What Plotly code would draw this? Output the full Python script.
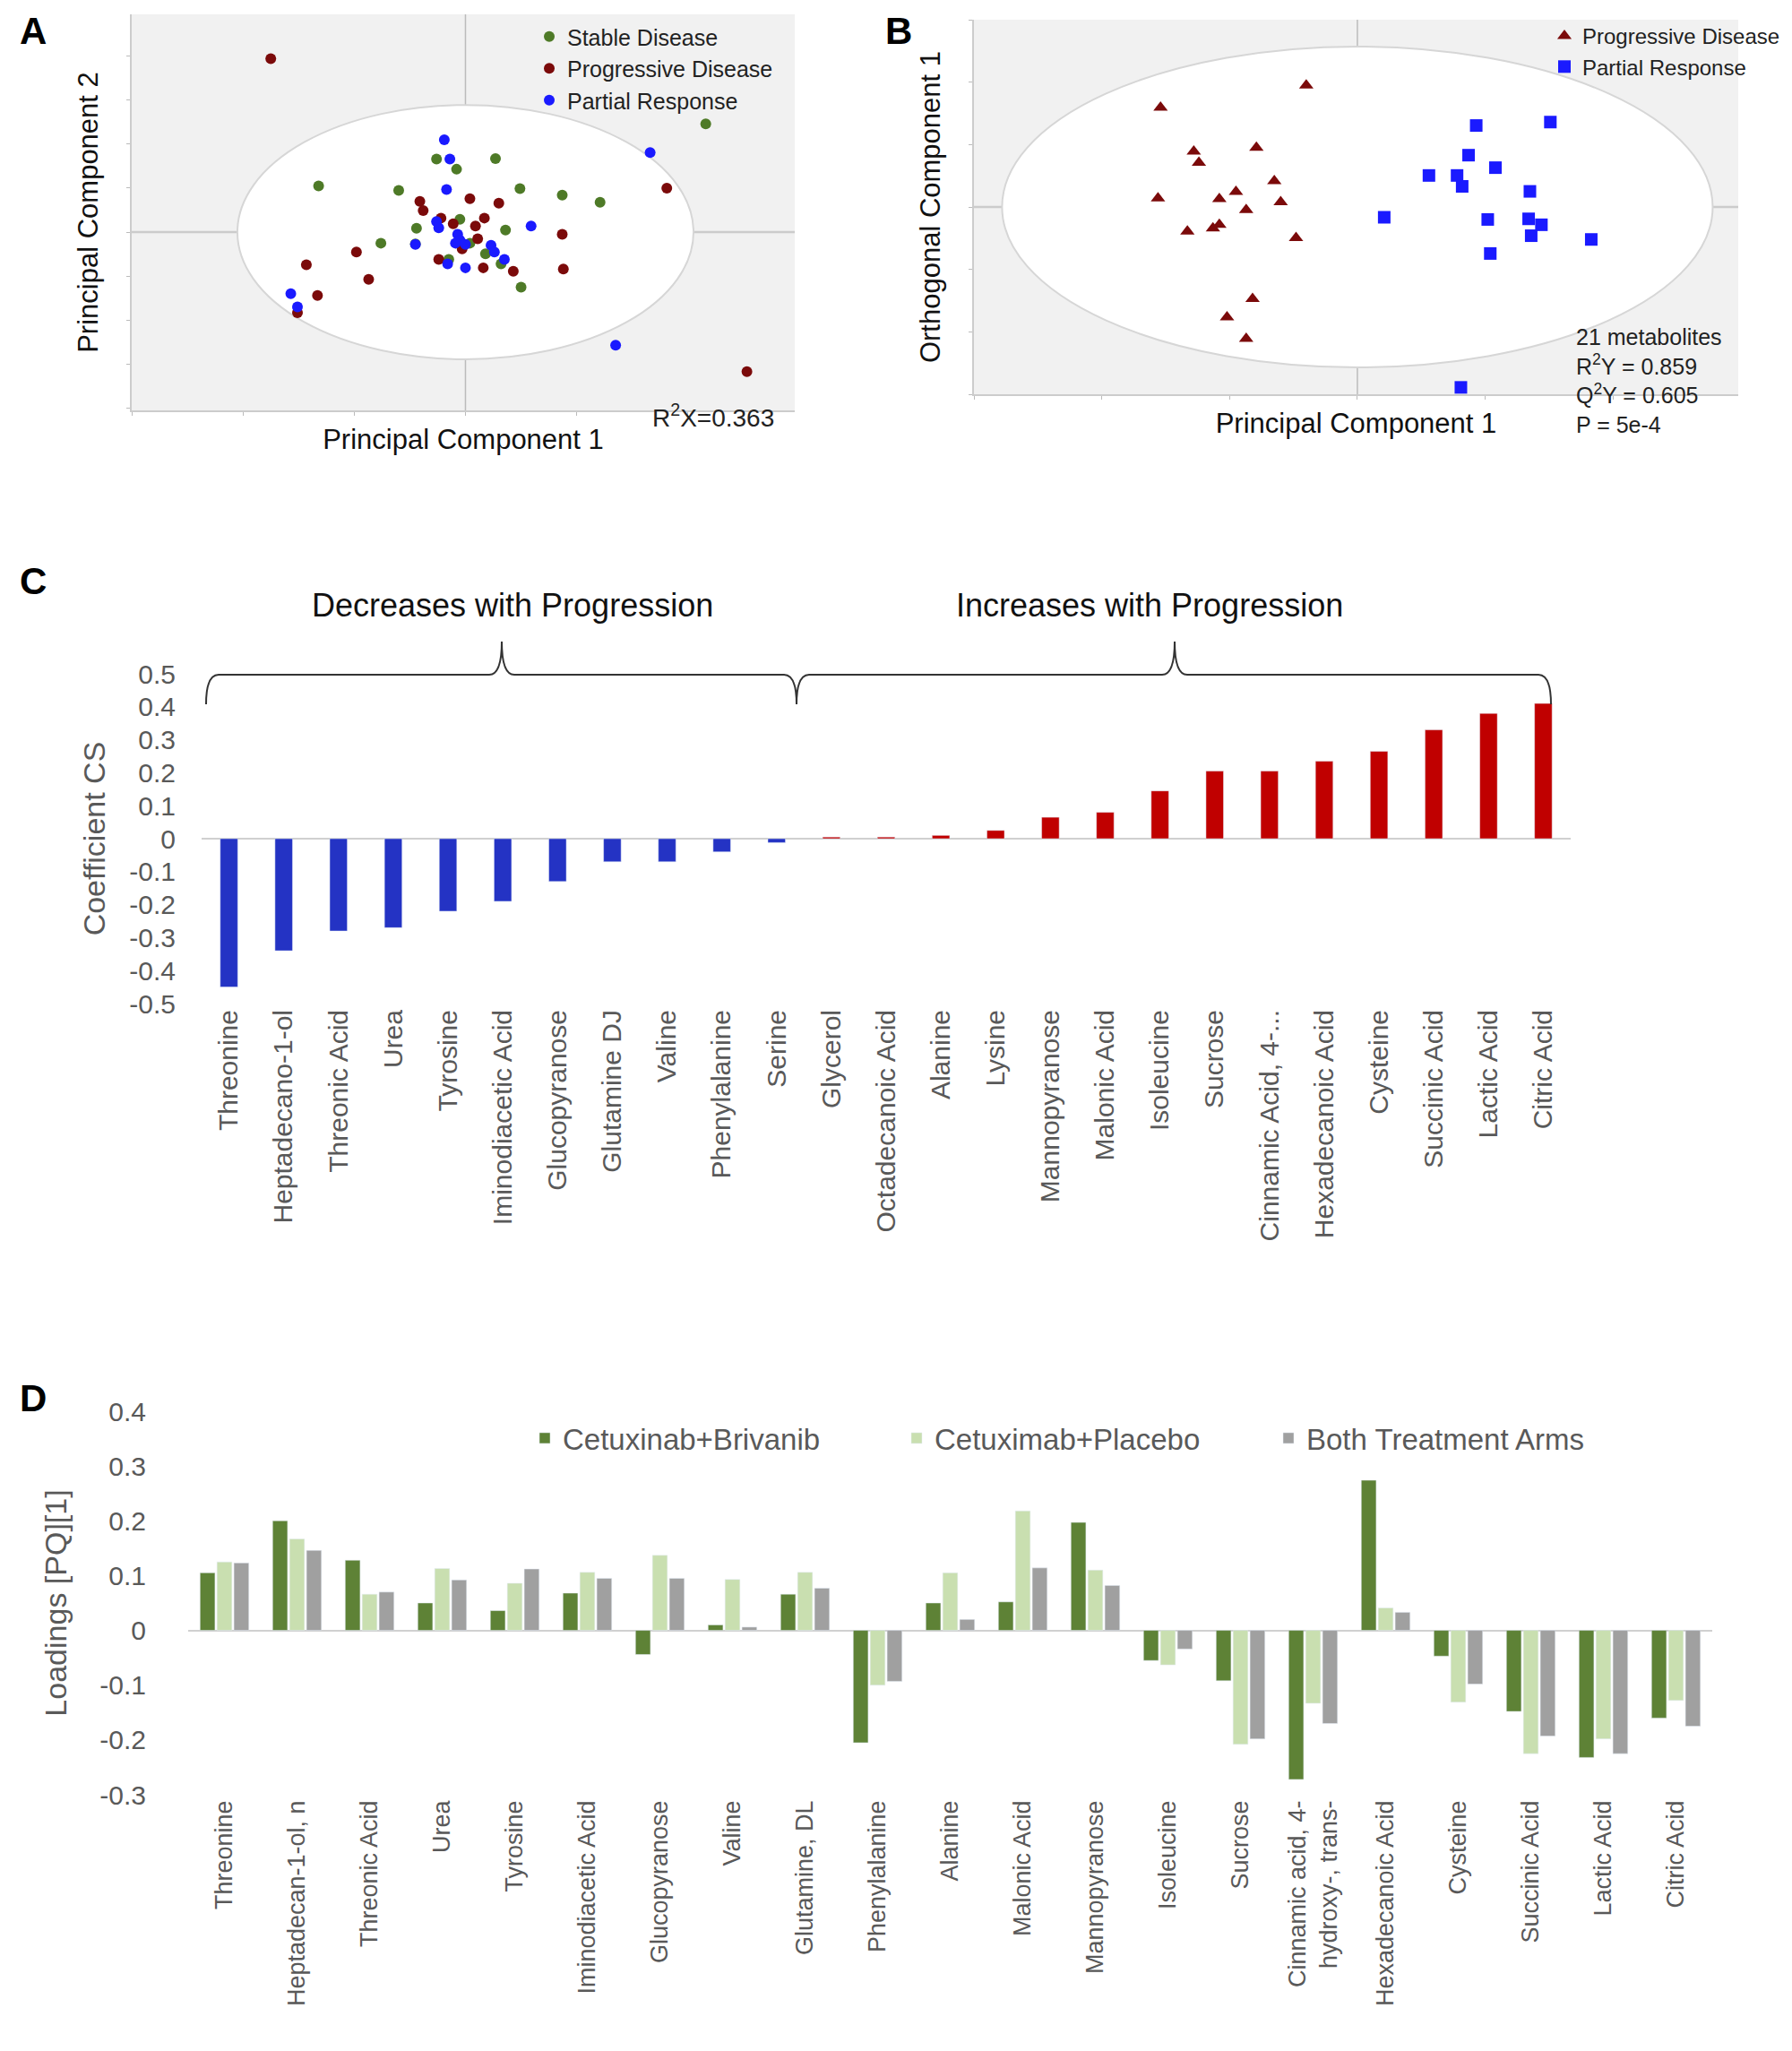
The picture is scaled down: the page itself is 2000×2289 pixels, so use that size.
import plotly.graph_objects as go

W, H = 2000, 2289

# ---- panel A: PCA scores (PC1, PC2)
a_pd_x = [-1.75, 1.81, 2.53, 0.04, 0.30, -0.41, -0.38, -0.22, -0.11, 0.17, 0.09, 0.11, -0.03, 0.87, 0.88, -0.98, -1.43, -0.87, -1.33, -1.51, -0.24, 0.16, 0.43]
a_pd_y = [3.94, 1.00, -3.17, 0.76, 0.66, 0.70, 0.49, 0.32, 0.19, 0.32, 0.14, -0.15, -0.38, -0.05, -0.84, -0.45, -0.74, -1.07, -1.44, -1.83, -0.62, -0.81, -0.89]
a_sd_x = [2.16, -1.32, -0.60, -0.26, -0.08, 0.27, 0.49, 0.87, 1.21, -0.05, -0.44, 0.36, -0.76, -0.45, 0.04, 0.18, -0.15, 0.32, 0.50]
a_sd_y = [2.46, 1.05, 0.95, 1.66, 1.43, 1.67, 0.99, 0.84, 0.68, 0.29, 0.09, 0.05, -0.25, -0.27, -0.25, -0.49, -0.62, -0.72, -1.25]
a_pr_x = [-0.19, -0.14, -0.17, 1.66, -0.26, -0.24, 0.59, -0.07, -0.05, -0.09, 0.00, 0.23, 0.26, 0.35, -0.16, 0.00, -1.57, -1.51, 1.35, -0.45]
a_pr_y = [2.10, 1.66, 0.97, 1.81, 0.24, 0.10, 0.14, -0.05, -0.18, -0.25, -0.28, -0.30, -0.45, -0.62, -0.72, -0.81, -1.40, -1.70, -2.57, -0.28]

# ---- panel B: OPLS-DA scores
b_pd_x = [-0.40, -1.54, -1.28, -1.24, -0.79, -0.65, -0.95, -1.08, -1.56, -0.60, -0.87, -1.08, -1.13, -1.33, -0.48, -0.82, -1.02, -0.87]
b_pd_y = [3.90, 3.19, 1.78, 1.42, 1.90, 0.83, 0.49, 0.26, 0.28, 0.16, -0.09, -0.57, -0.68, -0.78, -0.99, -2.94, -3.53, -4.22]
b_pr_x = [0.93, 1.51, 0.87, 1.08, 0.56, 0.78, 0.82, 1.35, 0.21, 1.02, 1.34, 1.44, 1.36, 1.83, 1.04, 0.81]
b_pr_y = [2.61, 2.72, 1.66, 1.26, 1.01, 1.01, 0.66, 0.50, -0.33, -0.40, -0.38, -0.57, -0.92, -1.04, -1.49, -5.78]

# ---- panel C: coefficients
c_names = ["Threonine", "Heptadecano-1-ol", "Threonic Acid", "Urea", "Tyrosine", "Iminodiacetic Acid",
           "Glucopyranose", "Glutamine DJ", "Valine", "Phenylalanine", "Serine", "Glycerol",
           "Octadecanoic Acid", "Alanine", "Lysine", "Mannopyranose", "Malonic Acid", "Isoleucine",
           "Sucrose", "Cinnamic Acid, 4-...", "Hexadecanoic Acid", "Cysteine", "Succinic Acid",
           "Lactic Acid", "Citric Acid"]
c_vals = [-0.45, -0.34, -0.28, -0.27, -0.22, -0.19, -0.13, -0.07, -0.07, -0.04, -0.012, 0.005,
          0.005, 0.01, 0.025, 0.065, 0.08, 0.145, 0.205, 0.205, 0.235, 0.265, 0.33, 0.38, 0.41]
c_ticks = [0.5, 0.4, 0.3, 0.2, 0.1, 0, -0.1, -0.2, -0.3, -0.4, -0.5]

# ---- panel D: loadings
d_names = ["Threonine", "Heptadecan-1-ol, n", "Threonic Acid", "Urea", "Tyrosine", "Iminodiacetic Acid",
           "Glucopyranose", "Valine", "Glutamine, DL", "Phenylalanine", "Alanine", "Malonic Acid",
           "Mannopyranose", "Isoleucine", "Sucrose", "Cinnamic acid, 4-<br>hydroxy-, trans-",
           "Hexadecanoic Acid", "Cysteine", "Succinic Acid", "Lactic Acid", "Citric Acid"]
d_brivanib = [0.105, 0.200, 0.128, 0.050, 0.036, 0.068, -0.044, 0.010, 0.066, -0.205, 0.050, 0.052,
              0.197, -0.055, -0.092, -0.272, 0.274, -0.047, -0.148, -0.232, -0.160]
d_placebo = [0.125, 0.167, 0.066, 0.113, 0.086, 0.106, 0.137, 0.093, 0.106, -0.100, 0.105, 0.218,
             0.110, -0.063, -0.208, -0.133, 0.041, -0.131, -0.225, -0.198, -0.128]
d_both = [0.123, 0.146, 0.070, 0.092, 0.112, 0.095, 0.095, 0.006, 0.077, -0.093, 0.020, 0.114,
          0.082, -0.034, -0.198, -0.170, 0.033, -0.098, -0.193, -0.225, -0.175]
d_ticks = [0.4, 0.3, 0.2, 0.1, 0, -0.1, -0.2, -0.3]


def px(x):
    return x / W


def py(y):
    return 1 - y / H


GREEN, DRED, BLUE = "#4e7a27", "#7b0a0a", "#1a1aff"
FONT = "Liberation Sans"

fig = go.Figure()

for xs, ys, col, name in [(a_sd_x, a_sd_y, GREEN, "Stable Disease"),
                          (a_pd_x, a_pd_y, DRED, "Progressive Disease"),
                          (a_pr_x, a_pr_y, BLUE, "Partial Response")]:
    fig.add_trace(go.Scatter(x=xs, y=ys, mode="markers", name=name, xaxis="x", yaxis="y",
                             marker=dict(color=col, size=12, symbol="circle"), legend="legend"))

fig.add_trace(go.Scatter(x=b_pd_x, y=b_pd_y, mode="markers", name="Progressive Disease", xaxis="x2", yaxis="y2",
                         marker=dict(color=DRED, size=14, symbol="triangle-up"), legend="legend2"))
fig.add_trace(go.Scatter(x=b_pr_x, y=b_pr_y, mode="markers", name="Partial Response", xaxis="x2", yaxis="y2",
                         marker=dict(color=BLUE, size=14, symbol="square"), legend="legend2"))

fig.add_trace(go.Bar(x=c_names, y=c_vals, xaxis="x3", yaxis="y3", showlegend=False, width=0.32,
                     marker_color=["#2433c4" if v < 0 else "#c00000" for v in c_vals]))

for vals, col, name in [(d_brivanib, "#5e8236", "Cetuxinab+Brivanib"),
                        (d_placebo, "#c9dfb0", "Cetuximab+Placebo"),
                        (d_both, "#a0a0a0", "Both Treatment Arms")]:
    fig.add_trace(go.Bar(x=d_names, y=vals, name=name, xaxis="x4", yaxis="y4", marker_color=col,
                         legend="legend3"))

shapes = []
# gray backgrounds, ellipses, crosshairs for A and B
for xr, yr, (cx, cy, rx, ry) in [("x", "y", (0, 0, 2.05, 2.89)), ("x2", "y2", (0, 0, 2.78, 5.14))]:
    shapes.append(dict(type="rect", xref=xr + " domain", yref=yr + " domain", x0=0, x1=1, y0=0, y1=1,
                       fillcolor="#f1f1f1", line=dict(width=0), layer="below"))
    shapes.append(dict(type="circle", xref=xr, yref=yr, x0=cx - rx, x1=cx + rx, y0=cy - ry, y1=cy + ry,
                       fillcolor="white", line=dict(color="#d6d6d6", width=2), layer="below"))
    shapes.append(dict(type="line", xref=xr, yref=yr + " domain", x0=0, x1=0, y0=0, y1=1,
                       line=dict(color="#bbbbbb", width=1.5), layer="below"))
    shapes.append(dict(type="line", xref=xr + " domain", yref=yr, x0=0, x1=1, y0=0, y1=0,
                       line=dict(color="#cccccc", width=2.5), layer="below"))


def brace(x0, tip, x1, yend, ymid, ytip, r=14):
    p = (f"M {px(x0)},{py(yend)} Q {px(x0)},{py(ymid)} {px(x0 + r)},{py(ymid)} "
         f"L {px(tip - r)},{py(ymid)} Q {px(tip)},{py(ymid)} {px(tip)},{py(ytip)} "
         f"Q {px(tip)},{py(ymid)} {px(tip + r)},{py(ymid)} L {px(x1 - r)},{py(ymid)} "
         f"Q {px(x1)},{py(ymid)} {px(x1)},{py(yend)}")
    return dict(type="path", xref="paper", yref="paper", path=p, line=dict(color="#333333", width=2))


shapes.append(brace(222, 552, 881, 778, 745, 708))
shapes.append(brace(881, 1303, 1723, 778, 745, 708))

ann = []
for letter, x, y in [("A", 29, 26), ("B", 995, 26), ("C", 29, 640), ("D", 29, 1552)]:
    ann.append(dict(text="<b>" + letter + "</b>", x=px(x), y=py(y), xref="paper", yref="paper",
                    showarrow=False, font=dict(size=42, color="black", family=FONT),
                    xanchor="center", yanchor="middle"))
ann.append(dict(text="R<sup>2</sup>X=0.363", x=px(858), y=py(436), xref="paper", yref="paper",
                showarrow=False, xanchor="right", font=dict(size=28, color="#222", family=FONT)))
ann.append(dict(text="21 metabolites<br>R<sup>2</sup>Y = 0.859<br>Q<sup>2</sup>Y = 0.605<br>P = 5e-4",
                x=px(1749), y=py(352), xref="paper", yref="paper", showarrow=False, align="left",
                xanchor="left", font=dict(size=25, color="#222", family=FONT)))
ann.append(dict(text="Decreases with Progression", x=px(564), y=py(645), xref="paper", yref="paper",
                showarrow=False, xanchor="center", font=dict(size=36, color="#111", family=FONT)))
ann.append(dict(text="Increases with Progression", x=px(1275), y=py(645), xref="paper", yref="paper",
                showarrow=False, xanchor="center", font=dict(size=36, color="#111", family=FONT)))

GR = "#595959"
scatter_ax = dict(showgrid=False, zeroline=False, showticklabels=False, ticks="outside", ticklen=4,
                  tickcolor="#bbb", showline=True, linecolor="#cccccc", linewidth=2, automargin=False)

fig.update_layout(
    width=W, height=H, margin=dict(l=0, r=0, t=0, b=0, autoexpand=False),
    plot_bgcolor="white", paper_bgcolor="white",
    font=dict(family=FONT), shapes=shapes, annotations=ann, barmode="group",
    xaxis=dict(domain=[px(139), px(879)], range=[-3, 2.96], dtick=1, anchor="y", **scatter_ax,
               title=dict(text="Principal Component 1", font=dict(size=31, color="#111"), standoff=16)),
    yaxis=dict(domain=[py(450), py(8)], range=[-4.05, 4.95], dtick=1, anchor="x", **scatter_ax,
               title=dict(text="Principal Component 2", font=dict(size=31, color="#111"), standoff=22)),
    xaxis2=dict(domain=[px(1079), px(1932)], range=[-3, 2.98], dtick=1, anchor="y2", **scatter_ax,
                title=dict(text="Principal Component 1", font=dict(size=31, color="#111"), standoff=16)),
    yaxis2=dict(domain=[py(432), py(14)], range=[-6, 6], dtick=2, anchor="x2", **scatter_ax,
                title=dict(text="Orthogonal Component 1", font=dict(size=31, color="#111"), standoff=22)),
    xaxis3=dict(domain=[px(217), px(1745)], anchor="y3", showline=False, tickangle=-90, automargin=False,
                tickfont=dict(size=30, color=GR), ticks="", showgrid=False),
    yaxis3=dict(domain=[py(1112), py(744)], range=[-0.5, 0.5], anchor="x3", tickvals=c_ticks,
                ticktext=[f"{t:g}" for t in c_ticks], tickfont=dict(size=30, color=GR), showgrid=False,
                ticks="outside", ticklen=22, tickcolor="rgba(0,0,0,0)",
                zeroline=True, zerolinecolor="#d0d0d0", zerolinewidth=2, automargin=False,
                title=dict(text="Coefficient CS", font=dict(size=34, color=GR), standoff=16)),
    xaxis4=dict(domain=[px(202), px(1903)], anchor="y4", showline=False, tickangle=-90, automargin=False,
                tickfont=dict(size=27, color=GR), ticks="", showgrid=False),
    yaxis4=dict(domain=[py(1995), py(1567)], range=[-0.3, 0.4], anchor="x4", tickvals=d_ticks,
                ticktext=[f"{t:g}" for t in d_ticks], automargin=False,
                ticks="outside", ticklen=40, tickcolor="rgba(0,0,0,0)",
                tickfont=dict(size=30, color=GR), showgrid=False, zeroline=True, zerolinecolor="#d0d0d0",
                zerolinewidth=2, title=dict(text="Loadings [PQ][1]", font=dict(size=34, color=GR), standoff=26)),
    bargap=0.3, bargroupgap=0.12,
    legend=dict(x=px(585), y=py(10), xanchor="left", yanchor="top", bgcolor="rgba(0,0,0,0)",
                font=dict(size=25, color="#222"), tracegroupgap=0, itemwidth=30),
    legend2=dict(x=px(1718), y=py(10), xanchor="left", yanchor="top", bgcolor="rgba(0,0,0,0)",
                 font=dict(size=24, color="#222"), itemwidth=30),
    legend3=dict(x=px(580), y=py(1597), xanchor="left", yanchor="middle", orientation="h",
                 bgcolor="rgba(0,0,0,0)", font=dict(size=33, color=GR), itemwidth=30,
                 entrywidth=370, entrywidthmode="pixels"),
)

fig.write_html("out.html")
